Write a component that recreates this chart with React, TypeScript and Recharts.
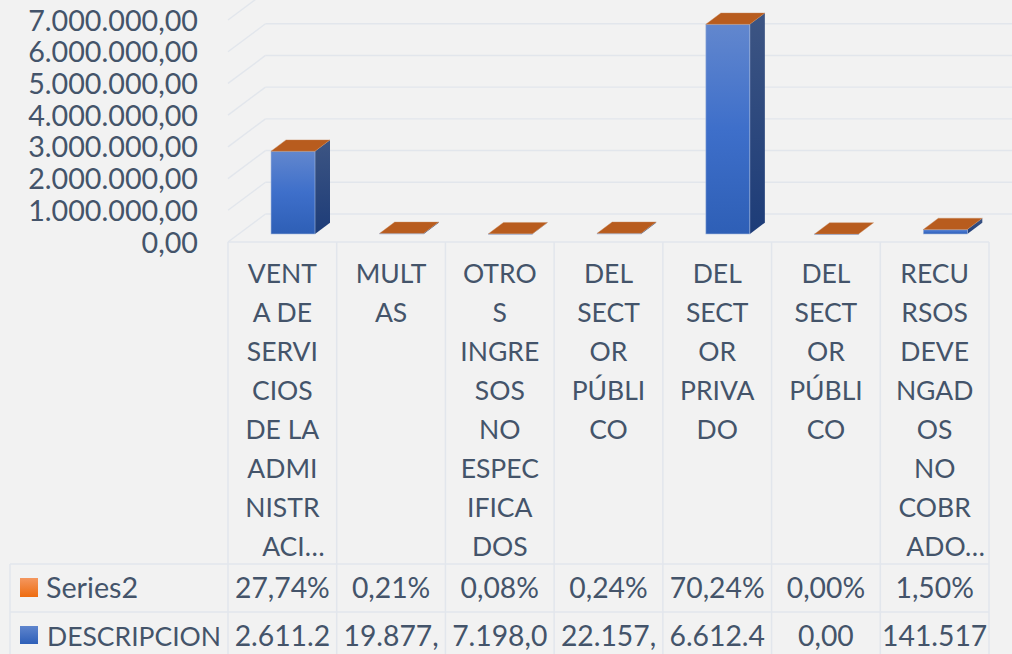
import React from "react";
import { BarChart, Bar, XAxis, YAxis, CartesianGrid, Customized } from "recharts";

const categories = [
  "VENT\nA DE\nSERVI\nCIOS\nDE LA\nADMI\nNISTR\nACI…",
  "MULT\nAS",
  "OTRO\nS\nINGRE\nSOS\nNO\nESPEC\nIFICA\nDOS",
  "DEL\nSECT\nOR\nPÚBLI\nCO",
  "DEL\nSECT\nOR\nPRIVA\nDO",
  "DEL\nSECT\nOR\nPÚBLI\nCO",
  "RECU\nRSOS\nDEVE\nNGAD\nOS\nNO\nCOBR\nADO…",
];
const descripcionValues = [2611200, 19877, 7198, 22157, 6612400, 0, 141517];
const series2Values = [0.2774, 0.0021, 0.0008, 0.0024, 0.7024, 0, 0.015];
const series2Cells = ["27,74%", "0,21%", "0,08%", "0,24%", "70,24%", "0,00%", "1,50%"];
const descripcionCells = ["2.611.2", "19.877,", "7.198,0", "22.157,", "6.612.4", "0,00", "141.517"];
const yTicks = [0, 1000000, 2000000, 3000000, 4000000, 5000000, 6000000, 7000000];
const yTickLabels = ["0,00", "1.000.000,00", "2.000.000,00", "3.000.000,00", "4.000.000,00", "5.000.000,00", "6.000.000,00", "7.000.000,00"];

const data = categories.map((name, i) => ({
  name,
  DESCRIPCION: descripcionValues[i],
  Series2: series2Values[i],
}));

const FONT = "Lato, sans-serif";
const TEXT = "#44546a";
const LINE = "#e2e6ec";
const FS = 26.5;
const FS_NUM = 28.3;
const FS_Y = 28.7;
const W = 1012;
const H = 654;
const DX = 15;
const DY = 11.3;
const OX = 11;
const OY = 8;
const WALL_X = 37.5;
const WALL_Y = 28;
const ROW1 = 564;
const ROW2 = 612;
const LEFT = 228;
const RIGHT = 989;

function Frame() {
  return (
    <g>
      <defs>
        <linearGradient id="front" x1="0" y1="0" x2="0" y2="1">
          <stop offset="0" stopColor="#6287ce" />
          <stop offset="0.5" stopColor="#3e6fca" />
          <stop offset="1" stopColor="#2e5fb6" />
        </linearGradient>
        <linearGradient id="side" x1="0" y1="0" x2="0" y2="1">
          <stop offset="0" stopColor="#3d5583" />
          <stop offset="1" stopColor="#1d3c78" />
        </linearGradient>
        <linearGradient id="swOrange" x1="0" y1="0" x2="0" y2="1">
          <stop offset="0" stopColor="#f4975f" />
          <stop offset="1" stopColor="#ee6c10" />
        </linearGradient>
        <linearGradient id="swBlue" x1="0" y1="0" x2="0" y2="1">
          <stop offset="0" stopColor="#5f85cd" />
          <stop offset="1" stopColor="#2e5fb8" />
        </linearGradient>
      </defs>
      <g stroke={LINE} strokeWidth={1.5}>
        <line x1={LEFT} x2={RIGHT} y1={242} y2={242} />
        <line x1={10} x2={RIGHT} y1={ROW1} y2={ROW1} />
        <line x1={10} x2={RIGHT} y1={ROW2} y2={ROW2} />
        <line x1={10} x2={10} y1={ROW1} y2={H} />
      </g>
      <rect x={20} y={578} width={18} height={19} fill="url(#swOrange)" />
      <rect x={20} y={626} width={18} height={18} fill="url(#swBlue)" />
      <g fontFamily={FONT} fill={TEXT}>
        <text x={46} y={598} fontSize={FS_Y}>Series2</text>
        <text x={47} y={646} fontSize={FS}>DESCRIPCION</text>
      </g>
    </g>
  );
}

function GridLine(props: any) {
  const { x1, y1 } = props;
  return (
    <g stroke={LINE} strokeWidth={1.4} fill="none">
      <line x1={x1} y1={y1} x2={x1 + WALL_X} y2={y1 - WALL_Y} />
      <line x1={x1 + WALL_X} y1={y1 - WALL_Y} x2={W} y2={y1 - WALL_Y} />
    </g>
  );
}

function CategoryTick(props: any) {
  const { x, index, payload } = props;
  const step = (RIGHT - LEFT) / categories.length;
  const lines: string[] = String(payload.value).split("\n");
  const right = x + step / 2;
  return (
    <g fontFamily={FONT} fontSize={FS} fill={TEXT} textAnchor="middle">
      <line x1={right} x2={right} y1={242} y2={H} stroke={LINE} strokeWidth={1.5} />
      {index === 0 && <line x1={x - step / 2} x2={x - step / 2} y1={242} y2={H} stroke={LINE} strokeWidth={1.5} />}
      {lines.map((l, i) => (
        <text key={i} x={l.endsWith("…") ? x + 11 : x} y={282.5 + i * 39}>{l}</text>
      ))}
      <text x={x} y={598} fontSize={FS_NUM}>{series2Cells[index]}</text>
      <text x={x} y={646} fontSize={FS_NUM}>{descripcionCells[index]}</text>
    </g>
  );
}

function ValueTick(props: any) {
  const { x, y, index } = props;
  return (
    <text x={x} y={y + 10.5} textAnchor="end" fontFamily={FONT} fontSize={FS_Y} fill={TEXT}>
      {yTickLabels[index]}
    </text>
  );
}

function FrontShape(props: any) {
  const { x, y, width, height } = props;
  const l = x + OX;
  const t = y - OY;
  const r = l + width;
  const b = t + height;
  return (
    <g>
      <polygon points={`${r},${t} ${r + DX},${t - DY} ${r + DX},${b - DY} ${r},${b}`} fill="url(#side)" />
      <rect x={l} y={t} width={width} height={Math.max(height, 0.5)} fill="url(#front)" stroke="#a9bbdc" strokeWidth={0.6} />
    </g>
  );
}

function TopShape(props: any) {
  const { x, y, width } = props;
  const l = x + OX;
  const t = y - OY;
  const r = l + width;
  return (
    <polygon
      points={`${l},${t} ${l + DX},${t - DY} ${r + DX},${t - DY} ${r},${t}`}
      fill="#b85c1e"
      stroke="#c98a5e"
      strokeWidth={0.4}
    />
  );
}

export default function App() {
  return (
    <div style={{ position: "absolute", left: 0, top: 0, width: W, height: H, background: "#f2f2f2", overflow: "hidden" }}>
      <BarChart
        width={W}
        height={H}
        data={data}
        margin={{ top: 20, right: W - RIGHT, bottom: 0, left: 0 }}
        barSize={44}
      >
        <Customized component={<Frame />} />
        <CartesianGrid horizontal={(p: any) => <GridLine key={p.key ?? p.index} {...p} />} vertical={false} />
        <XAxis
          dataKey="name"
          height={H - 242}
          interval={0}
          axisLine={false}
          tickLine={false}
          tick={(p: any) => <CategoryTick {...p} />}
        />
        <YAxis
          width={LEFT}
          domain={[0, 7000000]}
          ticks={yTicks}
          interval={0}
          axisLine={false}
          tickLine={false}
          tickMargin={24}
          tick={(p: any) => <ValueTick {...p} />}
        />
        <Bar dataKey="DESCRIPCION" stackId="a" isAnimationActive={false} shape={(p: any) => <FrontShape {...p} />} />
        <Bar dataKey="Series2" stackId="a" isAnimationActive={false} shape={(p: any) => <TopShape {...p} />} />
      </BarChart>
    </div>
  );
}
